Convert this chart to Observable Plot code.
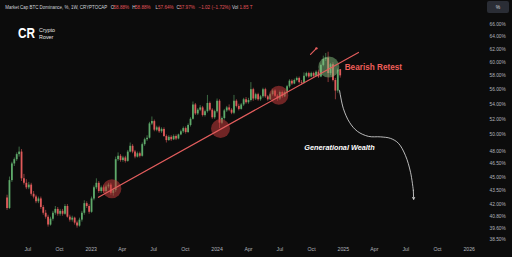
<!DOCTYPE html>
<html><head><meta charset="utf-8">
<script src="https://cdn.jsdelivr.net/npm/d3@7"></script>
<script src="https://cdn.jsdelivr.net/npm/@observablehq/plot@0.6"></script>
<style>
html,body{margin:0;padding:0;background:#0c0c0c;overflow:hidden}
#wrap{position:relative;width:512px;height:257px}
</style></head><body><div id="wrap"></div>
<script>
// Weekly candles of BTC dominance (%), first week starts Monday 2022-05-02
const startWeek = "2022-05-02";
const opens = [42.7,41.6,44.6,46.5,47.0,47.6,47.9,44.8,44.3,43.8,44.1,43.1,42.8,42.3,42.6,41.7,41.1,40.7,39.9,40.5,
41.1,41.5,41.0,41.3,41.0,41.8,40.7,40.4,40.6,40.1,39.8,40.4,41.1,42.1,41.8,41.2,42.6,43.8,44.3,43.4,
43.8,43.4,43.9,44.1,43.2,43.5,47.0,47.4,46.9,47.2,46.8,47.9,48.6,47.9,47.3,47.7,47.4,48.8,49.4,49.6,
51.4,51.7,50.6,50.9,50.4,50.7,49.8,49.3,49.7,49.4,49.8,49.5,50.0,50.4,50.8,50.3,51.2,52.0,53.9,52.7,
53.2,53.5,52.5,53.0,54.1,53.2,52.2,53.0,54.4,51.5,52.1,53.1,53.5,53.2,52.8,54.4,53.7,53.3,53.9,54.6,
54.2,54.5,56.0,54.7,55.3,54.6,55.0,56.0,55.0,54.6,55.3,55.8,55.1,54.7,55.6,55.0,55.6,56.4,57.2,56.8,
57.3,57.6,57.0,56.9,57.9,58.3,57.8,58.3,57.9,58.5,57.8,59.5,60.4,60.6,58.3,59.6,57.3,55.8,58.88];
const highs = [43.0,45.0,46.7,47.2,47.8,48.5,48.2,45.3,44.7,44.4,44.3,43.4,43.0,42.8,42.8,41.9,41.4,40.9,40.7,41.3,
41.8,41.7,41.5,41.5,42.0,42.0,40.9,40.8,40.7,40.3,40.6,41.3,42.4,42.3,42.0,42.8,44.0,44.8,44.5,44.0,
44.0,44.1,44.3,44.3,43.7,47.3,47.8,47.6,47.4,47.4,48.1,49.0,48.8,48.1,47.9,47.9,49.0,49.6,49.9,51.6,
52.3,51.9,51.1,51.1,50.9,50.9,50.0,49.9,49.9,50.0,50.0,50.1,50.6,51.0,51.0,51.4,52.2,54.3,54.1,53.4,
53.8,53.7,53.2,55.2,54.3,53.4,53.2,54.7,54.6,52.3,53.3,53.7,53.9,53.4,55.2,54.6,54.0,54.1,54.8,54.9,
54.8,57.0,56.2,55.5,55.5,55.2,56.2,56.2,55.2,55.5,56.0,56.0,55.3,55.8,55.8,55.8,56.6,57.4,57.4,57.5,
57.8,57.8,57.3,58.4,58.5,58.5,58.5,58.5,58.7,58.8,59.7,60.9,61.3,61.5,59.8,59.9,57.6,59.0,58.88];
const lows = [41.4,41.5,44.4,46.2,46.8,47.3,44.5,44.1,43.6,43.6,42.9,42.6,42.1,42.1,41.5,40.9,40.5,39.7,39.8,40.3,
40.9,40.8,40.8,40.8,40.9,40.6,40.2,40.2,39.9,39.6,39.7,40.2,40.9,41.6,41.0,41.1,42.4,43.6,43.2,43.2,
43.2,43.3,43.7,43.0,42.9,43.3,46.8,46.7,46.7,46.6,46.7,47.8,47.7,47.1,47.2,47.2,47.3,48.6,49.2,49.5,
51.2,50.4,50.4,50.2,50.2,49.7,49.0,49.2,49.2,49.3,49.3,49.4,49.9,50.2,50.1,50.2,51.0,51.9,52.5,52.5,
53.0,52.3,52.3,52.8,53.0,52.0,52.0,52.8,50.8,51.3,51.9,52.9,53.0,52.6,52.6,53.5,53.1,53.2,53.7,54.0,
54.0,54.3,54.4,54.5,54.4,54.4,54.8,54.8,54.4,54.5,55.1,54.9,54.4,54.5,54.8,54.9,55.4,56.2,56.6,56.7,
57.1,56.8,56.6,56.8,57.7,57.6,57.7,57.7,57.8,57.6,57.7,59.3,60.1,57.0,58.0,57.1,54.6,55.5,57.64];
const closes = [41.6,44.6,46.5,47.0,47.6,47.9,44.8,44.3,43.8,44.1,43.1,42.8,42.3,42.6,41.7,41.1,40.7,39.9,40.5,41.1,
41.5,41.0,41.3,41.0,41.8,40.7,40.4,40.6,40.1,39.8,40.4,41.1,42.1,41.8,41.2,42.6,43.8,44.3,43.4,43.8,
43.4,43.9,44.1,43.2,43.5,47.0,47.4,46.9,47.2,46.8,47.9,48.6,47.9,47.3,47.7,47.4,48.8,49.4,49.6,51.4,
51.7,50.6,50.9,50.4,50.7,49.8,49.3,49.7,49.4,49.8,49.5,50.0,50.4,50.8,50.3,51.2,52.0,53.9,52.7,53.2,
53.5,52.5,53.0,54.1,53.2,52.2,53.0,54.4,51.5,52.1,53.1,53.5,53.2,52.8,54.4,53.7,53.3,53.9,54.6,54.2,
54.5,56.0,54.7,55.3,54.6,55.0,56.0,55.0,54.6,55.3,55.8,55.1,54.7,55.6,55.0,55.6,56.4,57.2,56.8,57.3,
57.6,57.0,56.9,57.9,58.3,57.8,58.3,57.9,58.5,57.8,59.5,60.4,60.6,58.3,59.6,57.3,55.8,58.8,57.97];

// axis ticks
const xTickDates = ["2022-07-01","2022-10-01","2023-01-01","2023-04-01","2023-07-01","2023-10-01","2024-01-01",
  "2024-04-01","2024-07-01","2024-10-01","2025-01-01","2025-04-01","2025-07-01","2025-10-01","2026-01-01"];
const xTickLabels = ["Jul","Oct","2023","Apr","Jul","Oct","2024","Apr","Jul","Oct","2025","Apr","Jul","Oct","2026"];
const yTicks = [66,64,62,60,58,56,54,52,50,48,46.5,45,43.5,42,40.8,39.6,38.5];

// annotations (data coordinates)
const trendDates = ["2023-01-22","2025-02-14"];
const trendValues = [42.78, 61.47];
const redCircleDates = ["2023-03-02","2024-01-11","2024-06-28"];
const redCircleValues = [43.70, 50.80, 55.22];
const greenCircleDate = ["2024-11-20"];
const greenCircleValue = [59.27];
const pathDates = ["2024-12-21","2025-01-01","2025-01-19","2025-02-11","2025-03-15","2025-04-19","2025-05-18","2025-06-10","2025-06-30","2025-07-15","2025-07-23"];
const pathValues = [55.91,53.44,51.60,50.45,49.82,49.76,49.57,48.96,47.51,45.53,43.53];
const arrowEnd = {date:"2025-07-24", value:42.56};
const labelBearish = {date:"2025-01-05", value:59.18, text:"Bearish Retest"};
const labelGen = {date:"2024-09-10", value:48.38, text:"Generational Wealth"};
const pinDates = ["2024-09-28","2024-10-15"];
const pinValues = [61.17, 62.10];

const D = s => new Date(s + "T00:00:00Z");
const start = D(startWeek);
const candles = opens.map((o, i) => ({
  date: d3.utcDay.offset(start, 7 * i), open: o, high: highs[i], low: lows[i], close: closes[i]
}));
const up = "#5ea96a", down = "#e05a5a";
const col = d => d.close >= d.open ? up : down;
const labelMap = new Map(xTickDates.map((d, i) => [+D(d), xTickLabels[i]]));

const trend = trendDates.map((d, i) => ({date: D(d), value: trendValues[i]}));
const reds = redCircleDates.map((d, i) => ({date: D(d), value: redCircleValues[i]}));
const greens = greenCircleDate.map((d, i) => ({date: D(d), value: greenCircleValue[i]}));
const path = pathDates.map((d, i) => ({date: D(d), value: pathValues[i]}));
const pin = pinDates.map((d, i) => ({date: D(d), value: pinValues[i]}));

const plot = Plot.plot({
  width: 512, height: 257,
  marginLeft: 0, marginRight: 34, marginTop: 0, marginBottom: 15,
  style: {background: "#0c0c0c", color: "#b2b5be", fontFamily: "'Liberation Sans', Arial, sans-serif", overflow: "visible"},
  x: {type: "utc", domain: [D("2022-04-13"), D("2026-01-28")]},
  y: {type: "log", domain: [38.2, 70]},
  marks: [
    Plot.axisX({ticks: xTickDates.map(D), tickFormat: d => labelMap.get(+d), tickSize: 0, tickPadding: 5, fontSize: 5.2, color: "#b2b5be"}),
    Plot.axisY({anchor: "right", ticks: yTicks, tickFormat: d => d.toFixed(2) + "%", tickSize: 0, tickPadding: 11, textAnchor: "start", fontSize: 4.8, color: "#b2b5be"}),
    Plot.ruleX(candles, {x: "date", y1: "low", y2: "high", stroke: col, strokeWidth: 0.6}),
    Plot.ruleX(candles, {x: "date", y1: "open", y2: "close", stroke: col, strokeWidth: 1.8}),
    Plot.dot(reds, {x: "date", y: "value", r: 9.5, fill: "#c23a3a", fillOpacity: 0.55, stroke: "none"}),
    Plot.dot(greens, {x: "date", y: "value", r: 10.5, fill: "#86bf80", fillOpacity: 0.5, stroke: "none"}),
    Plot.line(trend, {x: "date", y: "value", stroke: "#e35d5d", strokeWidth: 1.2}),
    Plot.line(pin, {x: "date", y: "value", stroke: "#e35d5d", strokeWidth: 1.2}),
    Plot.dot(pin.slice(1), {x: "date", y: "value", r: 1.2, fill: "#e35d5d", stroke: "none"}),
    Plot.line(path, {x: "date", y: "value", curve: "catmull-rom", stroke: "#e6e6e6", strokeWidth: 0.8}),
    Plot.arrow([{x1: path[path.length - 1].date, y1: path[path.length - 1].value, x2: D(arrowEnd.date), y2: arrowEnd.value}],
      {x1: "x1", y1: "y1", x2: "x2", y2: "y2", stroke: "#e6e6e6", strokeWidth: 0.8, headLength: 4}),
    Plot.text([labelBearish], {x: d => D(d.date), y: "value", text: "text", textAnchor: "start", fill: "#ef5f5a", fontSize: 8.2, fontWeight: "bold"}),
    Plot.text([labelGen], {x: d => D(d.date), y: "value", text: "text", textAnchor: "start", fill: "#ffffff", fontSize: 7.3, fontWeight: "bold", fontStyle: "italic"})
  ]
});
document.getElementById("wrap").appendChild(plot);

// header, logo and price-scale badge
const svg = d3.select(plot);
const g = svg.append("g").attr("font-family", "'Liberation Sans', Arial, sans-serif").attr("text-anchor", "start");
const hdr = [
  {x: 5.3, t: "Market Cap BTC Dominance, %, 1W, CRYPTOCAP", c: "#d1d4dc", w: 102},
  {x: 110.8, t: "O", c: "#d1d4dc"}, {x: 113.5, t: "58.88%", c: "#e0545a"},
  {x: 132.3, t: "H", c: "#d1d4dc"}, {x: 135, t: "58.88%", c: "#e0545a"},
  {x: 155.5, t: "L", c: "#d1d4dc"}, {x: 158, t: "57.64%", c: "#e0545a"},
  {x: 176.5, t: "C", c: "#d1d4dc"}, {x: 179.2, t: "57.97%", c: "#e0545a"},
  {x: 198.5, t: "\u22121.02 (\u22121.72%)", c: "#e0545a"},
  {x: 232, t: "Vol", c: "#d1d4dc"}, {x: 239.5, t: "1.85 T", c: "#e0545a"}
];
hdr.forEach(h => {
  const t = g.append("text").attr("x", h.x).attr("y", 9).attr("font-size", 4.6).attr("fill", h.c).text(h.t);
  if (h.w) t.attr("textLength", h.w).attr("lengthAdjust", "spacingAndGlyphs");
});
g.append("text").attr("x", 18).attr("y", 38.3).attr("font-size", 14).attr("font-weight", "900")
  .attr("textLength", 17).attr("lengthAdjust", "spacingAndGlyphs").attr("fill", "#ffffff").text("CR");
g.append("text").attr("x", 39).attr("y", 32).attr("font-size", 5.4).attr("fill", "#e8e8e8").text("Crypto");
g.append("text").attr("x", 39).attr("y", 38.5).attr("font-size", 5.4).attr("fill", "#e8e8e8").text("Rover");
g.append("rect").attr("x", 487).attr("y", 1).attr("width", 22).attr("height", 12).attr("rx", 2).attr("fill", "#2a2d35");
g.append("text").attr("x", 498).attr("y", 9).attr("text-anchor", "middle").attr("font-size", 5).attr("fill", "#d1d4dc").text("%");
</script></body></html>
